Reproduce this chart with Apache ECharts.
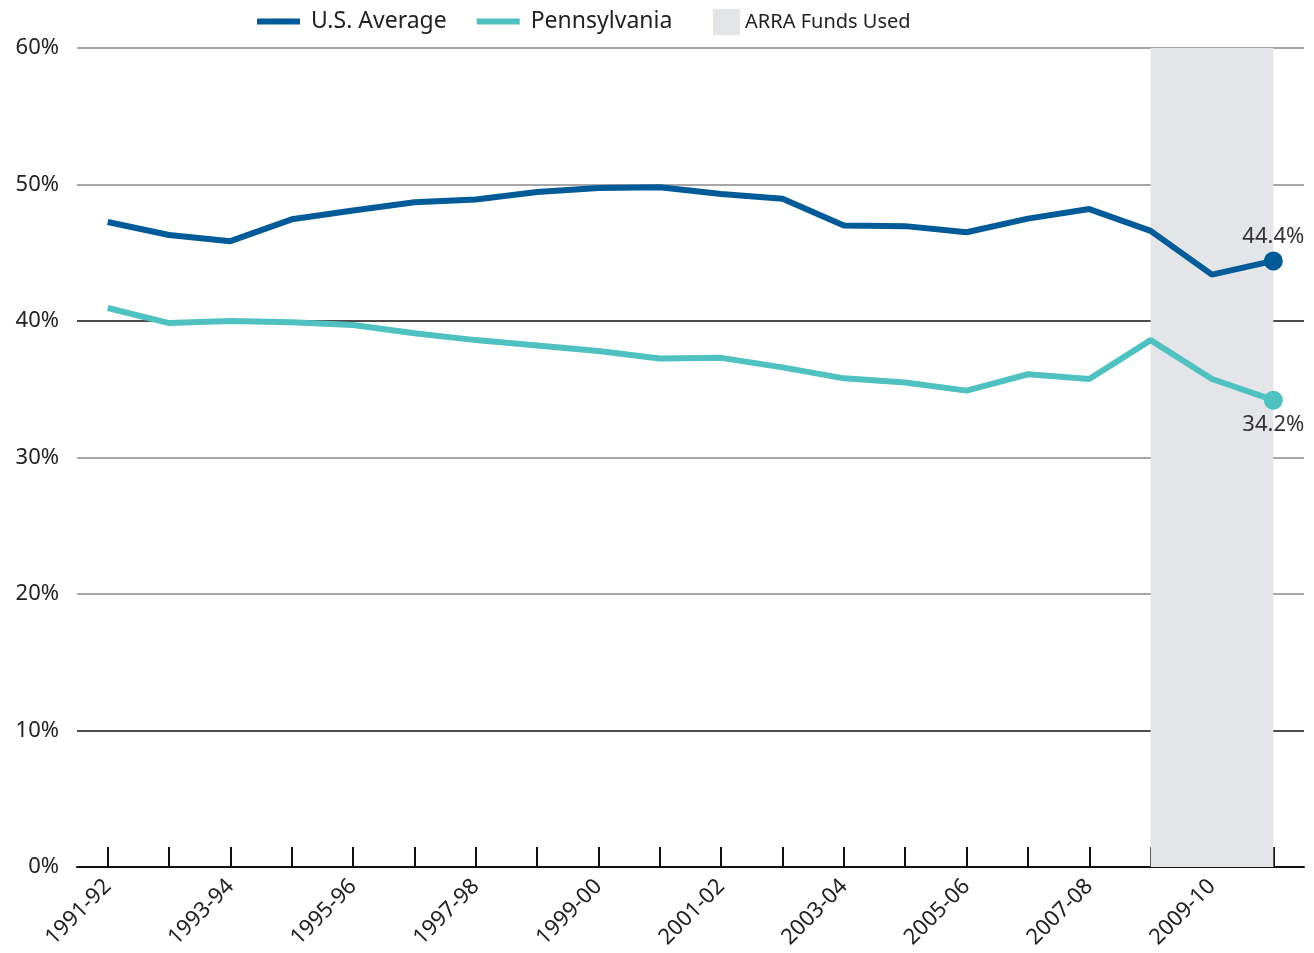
<!DOCTYPE html>
<html>
<head>
<meta charset="utf-8">
<script src="https://cdn.jsdelivr.net/npm/echarts@6/dist/echarts.min.js"></script>
<style>
  html, body { margin: 0; padding: 0; background: #fff; }
  #chart { width: 1314px; height: 953px; }
</style>
</head>
<body>
<div id="chart"></div>
<script>
const years = [
  '1991-92', '1992-93', '1993-94', '1994-95', '1995-96', '1996-97', '1997-98',
  '1998-99', '1999-00', '2000-01', '2001-02', '2002-03', '2003-04', '2004-05',
  '2005-06', '2006-07', '2007-08', '2008-09', '2009-10', '2010-11'
]
const usAverage = [
  47.25, 46.3, 45.85, 47.45, 48.1, 48.7, 48.9, 49.45, 49.75, 49.8,
  49.3, 48.95, 47.0, 46.95, 46.5, 47.5, 48.2, 46.6, 43.4, 44.4
]
const pennsylvania = [
  40.95, 39.85, 40.0, 39.9, 39.7, 39.1, 38.6, 38.2, 37.8, 37.25,
  37.3, 36.6, 35.8, 35.5, 34.9, 36.1, 35.75, 38.6, 35.75, 34.2
]
const arraStart = '2008-09'
const arraEnd = '2010-11'

const font = 'Noto Sans'
const last = years.length - 1

// only the last point gets a dot and a value label
const withEndLabel = (values, pos, dist) => values.map((v, i) => i === last ? {
  value: v,
  symbolSize: 19,
  label: {
    show: true,
    position: pos,
    distance: dist,
    formatter: v.toFixed(1) + '%',
    fontFamily: font,
    fontSize: 22,
    color: '#333'
  }
} : v)

const chart = echarts.init(document.getElementById('chart'))

chart.setOption({
  animation: false,
  textStyle: { fontFamily: font },
  legend: [
    {
      data: [
        { name: 'U.S. Average', icon: 'rect' },
        { name: 'Pennsylvania', icon: 'rect' }
      ],
      left: 252,
      top: 5,
      itemWidth: 43,
      itemHeight: 6,
      itemGap: 30,
      textStyle: { fontFamily: font, fontSize: 23, color: '#222', padding: [0, 0, 0, 6] }
    },
    {
      data: [{ name: 'ARRA Funds Used', icon: 'rect' }],
      left: 708,
      top: 4,
      itemWidth: 27,
      itemHeight: 26,
      textStyle: { fontFamily: font, fontSize: 20, color: '#222' }
    }
  ],
  grid: { left: 77, right: 10, top: 48, bottom: 86, containLabel: false },
  xAxis: {
    type: 'category',
    data: years,
    boundaryGap: true,
    axisLine: { lineStyle: { color: '#111', width: 2 } },
    axisTick: {
      show: true,
      inside: true,
      length: 20,
      interval: 0,
      alignWithLabel: true,
      lineStyle: { color: '#111', width: 2 }
    },
    axisLabel: {
      interval: 1,
      rotate: 45,
      margin: 16,
      fontFamily: font,
      fontSize: 22,
      color: '#222'
    }
  },
  yAxis: {
    type: 'value',
    min: 0,
    max: 60,
    interval: 10,
    axisLine: { show: false },
    axisTick: { show: false },
    axisLabel: {
      formatter: '{value}%',
      margin: 18,
      fontFamily: font,
      fontSize: 22,
      color: '#222'
    },
    splitLine: {
      lineStyle: {
        color: ['#111', '#111', '#8a8a8a', '#8a8a8a', '#111', '#8a8a8a', '#8a8a8a'],
        width: 1.5
      }
    }
  },
  series: [
    {
      name: 'ARRA Funds Used',
      type: 'line',
      data: [],
      itemStyle: { color: '#e4e5e8' },
      markArea: {
        silent: true,
        itemStyle: { color: '#e4e5e8' },
        data: [[{ xAxis: arraStart }, { xAxis: arraEnd }]]
      },
      z: 1
    },
    {
      name: 'U.S. Average',
      type: 'line',
      data: withEndLabel(usAverage, 'top', 4),
      symbol: 'circle',
      symbolSize: 0,
      showSymbol: true,
      lineStyle: { color: '#005b98', width: 6 },
      itemStyle: { color: '#005b98' },
      z: 3
    },
    {
      name: 'Pennsylvania',
      type: 'line',
      data: withEndLabel(pennsylvania, 'bottom', 4),
      symbol: 'circle',
      symbolSize: 0,
      showSymbol: true,
      lineStyle: { color: '#4fc1c1', width: 6 },
      itemStyle: { color: '#4fc1c1' },
      z: 3
    }
  ]
})
</script>
</body>
</html>
